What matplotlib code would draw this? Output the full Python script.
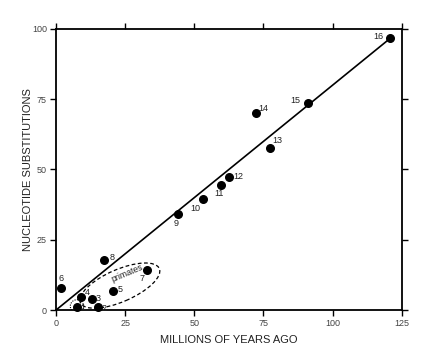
import matplotlib
matplotlib.use("Agg")
import matplotlib.pyplot as plt
from matplotlib.patches import Ellipse

plt.rcParams['font.family'] = ['Liberation Sans', 'DejaVu Sans']

labels = ['1', '2', '3', '4', '5', '6', '7', '8', '9', '10', '11', '12', '13', '14', '15', '16']
mya = [7.6, 15.2, 13.0, 9.0, 20.6, 1.8, 32.9, 17.4, 44.0, 53.0, 59.6, 62.5, 77.3, 72.2, 91.0, 120.6]
subs = [1.1, 1.1, 3.9, 4.6, 6.8, 7.8, 14.2, 17.8, 34.2, 39.5, 44.5, 47.3, 57.7, 70.0, 73.8, 96.8]
# label offsets in pixels
offs = [(6, 0), (6, -1), (6, 1), (6, 5), (7, 1), (0, 10), (-5, -8), (8, 3), (-2, -10),
        (-7, -9), (-2, -9), (9, 1), (7, 7), (8, 5), (-12, 2), (-11, 1)]

fit_x = [0, 121]
slope = 0.8

xticks = [0, 25, 50, 75, 100, 125]
yticks = [0, 25, 50, 75, 100]

fig = plt.figure(figsize=(4.44, 3.61), dpi=100)
ax = fig.add_axes([0.126, 0.141, 0.779, 0.779])
ax.set_xlim(0, 125)
ax.set_ylim(0, 100)

tc = '#222222'
ax.plot(fit_x, [slope * v for v in fit_x], color='black', lw=1.2, zorder=2)
ax.scatter(mya, subs, s=30, color='black', zorder=3, clip_on=False)
for lab, x, y, (dx, dy) in zip(labels, mya, subs, offs):
    ax.annotate(lab, (x, y), xytext=(dx, dy), textcoords='offset pixels',
                ha='center', va='center', fontsize=6.5, color=tc)

ell = Ellipse((23.1, 8.7), width=31, height=11.5, angle=23, fill=False,
              ls=(0, (3, 2)), lw=0.9, color='black', zorder=2)
ax.add_patch(ell)
circ = Ellipse((mya[0], subs[0] + 0.3), width=4.8, height=4.6, fill=False,
               ls=(0, (1, 1.2)), lw=0.8, color='black', zorder=2)
ax.add_patch(circ)
ax.text(25.8, 13.0, 'primates', rotation=23, ha='center', va='center',
        fontsize=6.3, color=tc)

ax.set_xticks(xticks)
ax.set_yticks(yticks)
ax.tick_params(direction='out', length=4, width=1, labelsize=6.5, colors='black',
               labelcolor='#444444', top=True, right=True, pad=2.5)
for s in ax.spines.values():
    s.set_linewidth(1.3)

ax.set_xlabel('MILLIONS OF YEARS AGO', fontsize=8, color=tc)
ax.set_ylabel('NUCLEOTIDE SUBSTITUTIONS', fontsize=8, color=tc)
ax.xaxis.set_label_coords(0.5, -0.089)
ax.yaxis.set_label_coords(-0.066, 0.5)

fig.savefig('out.png', dpi=100)
